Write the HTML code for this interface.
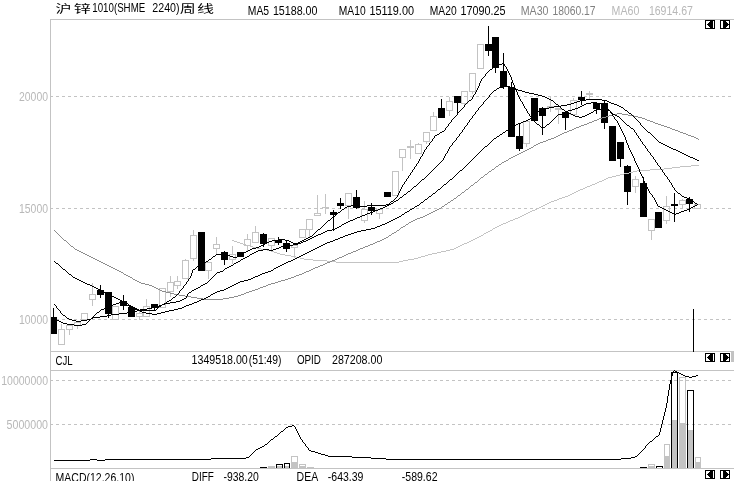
<!DOCTYPE html>
<html lang="zh">
<head>
<meta charset="utf-8">
<title>沪锌1010(SHME 2240)周线</title>
<style>
html,body{margin:0;padding:0;background:#fff;}
body{width:734px;height:481px;overflow:hidden;position:relative;font-family:"Liberation Sans","Noto Sans CJK SC",sans-serif;}
svg text{white-space:pre;}
</style>
</head>
<body>
<svg width="734" height="481" viewBox="0 0 734 481" style="display:block;position:absolute;left:0;top:0">
<rect x="0" y="0" width="734" height="481" fill="#fff"/>
<g stroke="#c3c3c3" stroke-width="1" fill="none" shape-rendering="crispEdges">
<line x1="50.5" y1="19" x2="50.5" y2="481"/>
<line x1="50" y1="19.5" x2="734" y2="19.5"/>
<line x1="50" y1="351.5" x2="734" y2="351.5"/>
<line x1="50" y1="370.5" x2="734" y2="370.5"/>
<line x1="50" y1="468.5" x2="734" y2="468.5"/>
</g>
<g stroke="#c3c3c3" stroke-width="1" fill="none" stroke-dasharray="3 3" shape-rendering="crispEdges">
<line x1="50" y1="96.5" x2="734" y2="96.5"/>
<line x1="50" y1="208.5" x2="734" y2="208.5"/>
<line x1="50" y1="319.5" x2="734" y2="319.5"/>
<line x1="50" y1="380.5" x2="734" y2="380.5"/>
<line x1="50" y1="424.5" x2="734" y2="424.5"/>
</g>
<g shape-rendering="crispEdges">
<rect x="61" y="324" width="1" height="5" fill="#c3c3c3"/>
<rect x="58.5" y="329.5" width="6" height="15" fill="none" stroke="#c3c3c3" stroke-width="1"/>
<rect x="69" y="330" width="1" height="5" fill="#c3c3c3"/>
<rect x="66.5" y="325.5" width="6" height="4" fill="none" stroke="#c3c3c3" stroke-width="1"/>
<rect x="77" y="326" width="1" height="3" fill="#c3c3c3"/>
<rect x="74.5" y="322.5" width="6" height="3" fill="none" stroke="#c3c3c3" stroke-width="1"/>
<rect x="81.5" y="313.5" width="6" height="6" fill="none" stroke="#c3c3c3" stroke-width="1"/>
<rect x="92" y="283" width="1" height="11" fill="#c3c3c3"/>
<rect x="92" y="300" width="1" height="6" fill="#c3c3c3"/>
<rect x="89.5" y="294.5" width="6" height="5" fill="none" stroke="#c3c3c3" stroke-width="1"/>
<rect x="112.5" y="306.5" width="6" height="13" fill="none" stroke="#c3c3c3" stroke-width="1"/>
<rect x="139" y="311" width="1" height="2" fill="#c3c3c3"/>
<rect x="139" y="317" width="1" height="3" fill="#c3c3c3"/>
<rect x="136.5" y="313.5" width="6" height="3" fill="none" stroke="#c3c3c3" stroke-width="1"/>
<rect x="146" y="299" width="1" height="7" fill="#c3c3c3"/>
<rect x="143.5" y="306.5" width="6" height="10" fill="none" stroke="#c3c3c3" stroke-width="1"/>
<rect x="159.5" y="288.5" width="6" height="19" fill="none" stroke="#c3c3c3" stroke-width="1"/>
<rect x="170" y="276" width="1" height="6" fill="#c3c3c3"/>
<rect x="170" y="292" width="1" height="5" fill="#c3c3c3"/>
<rect x="167.5" y="282.5" width="6" height="9" fill="none" stroke="#c3c3c3" stroke-width="1"/>
<rect x="177" y="276" width="1" height="5" fill="#c3c3c3"/>
<rect x="177" y="286" width="1" height="3" fill="#c3c3c3"/>
<rect x="174.5" y="281.5" width="6" height="4" fill="none" stroke="#c3c3c3" stroke-width="1"/>
<rect x="185" y="259" width="1" height="1" fill="#c3c3c3"/>
<rect x="182.5" y="260.5" width="6" height="18" fill="none" stroke="#c3c3c3" stroke-width="1"/>
<rect x="193" y="230" width="1" height="5" fill="#c3c3c3"/>
<rect x="193" y="259" width="1" height="2" fill="#c3c3c3"/>
<rect x="190.5" y="235.5" width="6" height="23" fill="none" stroke="#c3c3c3" stroke-width="1"/>
<rect x="208" y="271" width="1" height="8" fill="#c3c3c3"/>
<rect x="205.5" y="262.5" width="6" height="8" fill="none" stroke="#c3c3c3" stroke-width="1"/>
<rect x="216" y="237" width="1" height="7" fill="#c3c3c3"/>
<rect x="216" y="249" width="1" height="6" fill="#c3c3c3"/>
<rect x="213.5" y="244.5" width="6" height="4" fill="none" stroke="#c3c3c3" stroke-width="1"/>
<rect x="232" y="246" width="1" height="8" fill="#c3c3c3"/>
<rect x="232" y="260" width="1" height="4" fill="#c3c3c3"/>
<rect x="229.5" y="254.5" width="6" height="5" fill="none" stroke="#c3c3c3" stroke-width="1"/>
<rect x="247" y="234" width="1" height="5" fill="#c3c3c3"/>
<rect x="247" y="246" width="1" height="5" fill="#c3c3c3"/>
<rect x="244.5" y="239.5" width="6" height="6" fill="none" stroke="#c3c3c3" stroke-width="1"/>
<rect x="255" y="226" width="1" height="6" fill="#c3c3c3"/>
<rect x="252.5" y="232.5" width="6" height="10" fill="none" stroke="#c3c3c3" stroke-width="1"/>
<rect x="271" y="246" width="1" height="4" fill="#c3c3c3"/>
<rect x="268.5" y="238.5" width="6" height="7" fill="none" stroke="#c3c3c3" stroke-width="1"/>
<rect x="294" y="248" width="1" height="10" fill="#c3c3c3"/>
<rect x="291.5" y="245.5" width="6" height="2" fill="none" stroke="#c3c3c3" stroke-width="1"/>
<rect x="299.5" y="229.5" width="6" height="8" fill="none" stroke="#c3c3c3" stroke-width="1"/>
<rect x="309" y="230" width="1" height="7" fill="#c3c3c3"/>
<rect x="306.5" y="219.5" width="6" height="10" fill="none" stroke="#c3c3c3" stroke-width="1"/>
<rect x="317" y="195" width="1" height="18" fill="#c3c3c3"/>
<rect x="314.5" y="213.5" width="6" height="2" fill="none" stroke="#c3c3c3" stroke-width="1"/>
<rect x="325" y="194" width="1" height="13" fill="#c3c3c3"/>
<rect x="325" y="208" width="1" height="6" fill="#c3c3c3"/>
<rect x="322" y="207" width="7" height="1" fill="#c3c3c3"/>
<rect x="348" y="206" width="1" height="13" fill="#c3c3c3"/>
<rect x="345.5" y="193.5" width="6" height="12" fill="none" stroke="#c3c3c3" stroke-width="1"/>
<rect x="364" y="201" width="1" height="8" fill="#c3c3c3"/>
<rect x="364" y="221" width="1" height="2" fill="#c3c3c3"/>
<rect x="361.5" y="209.5" width="6" height="11" fill="none" stroke="#c3c3c3" stroke-width="1"/>
<rect x="379" y="214" width="1" height="5" fill="#c3c3c3"/>
<rect x="376.5" y="209.5" width="6" height="4" fill="none" stroke="#c3c3c3" stroke-width="1"/>
<rect x="392.5" y="171.5" width="6" height="24" fill="none" stroke="#c3c3c3" stroke-width="1"/>
<rect x="402" y="158" width="1" height="13" fill="#c3c3c3"/>
<rect x="399.5" y="149.5" width="6" height="8" fill="none" stroke="#c3c3c3" stroke-width="1"/>
<rect x="410" y="140" width="1" height="6" fill="#c3c3c3"/>
<rect x="410" y="148" width="1" height="11" fill="#c3c3c3"/>
<rect x="407.5" y="146.5" width="6" height="1" fill="none" stroke="#c3c3c3" stroke-width="1"/>
<rect x="418" y="143" width="1" height="1" fill="#c3c3c3"/>
<rect x="415.5" y="144.5" width="6" height="9" fill="none" stroke="#c3c3c3" stroke-width="1"/>
<rect x="426" y="142" width="1" height="2" fill="#c3c3c3"/>
<rect x="423.5" y="132.5" width="6" height="9" fill="none" stroke="#c3c3c3" stroke-width="1"/>
<rect x="433" y="112" width="1" height="4" fill="#c3c3c3"/>
<rect x="430.5" y="116.5" width="6" height="14" fill="none" stroke="#c3c3c3" stroke-width="1"/>
<rect x="449" y="97" width="1" height="4" fill="#c3c3c3"/>
<rect x="449" y="111" width="1" height="5" fill="#c3c3c3"/>
<rect x="446.5" y="101.5" width="6" height="9" fill="none" stroke="#c3c3c3" stroke-width="1"/>
<rect x="464" y="104" width="1" height="1" fill="#c3c3c3"/>
<rect x="461.5" y="91.5" width="6" height="12" fill="none" stroke="#c3c3c3" stroke-width="1"/>
<rect x="472" y="92" width="1" height="2" fill="#c3c3c3"/>
<rect x="469.5" y="73.5" width="6" height="18" fill="none" stroke="#c3c3c3" stroke-width="1"/>
<rect x="477.5" y="44.5" width="6" height="24" fill="none" stroke="#c3c3c3" stroke-width="1"/>
<rect x="526" y="144" width="1" height="3" fill="#c3c3c3"/>
<rect x="523.5" y="121.5" width="6" height="22" fill="none" stroke="#c3c3c3" stroke-width="1"/>
<rect x="550" y="97" width="1" height="9" fill="#c3c3c3"/>
<rect x="550" y="108" width="1" height="4" fill="#c3c3c3"/>
<rect x="547.5" y="106.5" width="6" height="1" fill="none" stroke="#c3c3c3" stroke-width="1"/>
<rect x="558" y="110" width="1" height="14" fill="#c3c3c3"/>
<rect x="555.5" y="108.5" width="6" height="1" fill="none" stroke="#c3c3c3" stroke-width="1"/>
<rect x="573" y="98" width="1" height="2" fill="#c3c3c3"/>
<rect x="570.5" y="100.5" width="6" height="14" fill="none" stroke="#c3c3c3" stroke-width="1"/>
<rect x="589" y="91" width="1" height="2" fill="#c3c3c3"/>
<rect x="589" y="95" width="1" height="5" fill="#c3c3c3"/>
<rect x="586.5" y="93.5" width="6" height="1" fill="none" stroke="#c3c3c3" stroke-width="1"/>
<rect x="635" y="176" width="1" height="3" fill="#c3c3c3"/>
<rect x="635" y="187" width="1" height="6" fill="#c3c3c3"/>
<rect x="632.5" y="179.5" width="6" height="7" fill="none" stroke="#c3c3c3" stroke-width="1"/>
<rect x="651" y="231" width="1" height="9" fill="#c3c3c3"/>
<rect x="648.5" y="219.5" width="6" height="11" fill="none" stroke="#c3c3c3" stroke-width="1"/>
<rect x="666" y="196" width="1" height="10" fill="#c3c3c3"/>
<rect x="666" y="221" width="1" height="3" fill="#c3c3c3"/>
<rect x="663.5" y="206.5" width="6" height="14" fill="none" stroke="#c3c3c3" stroke-width="1"/>
<rect x="682" y="199" width="1" height="1" fill="#c3c3c3"/>
<rect x="682" y="205" width="1" height="4" fill="#c3c3c3"/>
<rect x="679.5" y="200.5" width="6" height="4" fill="none" stroke="#c3c3c3" stroke-width="1"/>
<rect x="694.5" y="204.5" width="6" height="4" fill="none" stroke="#c3c3c3" stroke-width="1"/>
</g>
<g shape-rendering="crispEdges">
<rect x="53" y="308" width="1" height="26" fill="#000"/>
<rect x="50" y="317" width="7" height="17" fill="#000"/>
<rect x="100" y="285" width="1" height="13" fill="#000"/>
<rect x="97" y="290" width="7" height="5" fill="#000"/>
<rect x="108" y="292" width="1" height="26" fill="#000"/>
<rect x="105" y="292" width="7" height="22" fill="#000"/>
<rect x="123" y="295" width="1" height="15" fill="#000"/>
<rect x="120" y="301" width="7" height="5" fill="#000"/>
<rect x="131" y="306" width="1" height="11" fill="#000"/>
<rect x="128" y="307" width="7" height="10" fill="#000"/>
<rect x="154" y="304" width="1" height="6" fill="#000"/>
<rect x="151" y="304" width="7" height="4" fill="#000"/>
<rect x="198" y="232" width="7" height="39" fill="#000"/>
<rect x="224" y="251" width="1" height="14" fill="#000"/>
<rect x="221" y="252" width="7" height="8" fill="#000"/>
<rect x="237" y="252" width="7" height="5" fill="#000"/>
<rect x="263" y="233" width="1" height="14" fill="#000"/>
<rect x="260" y="234" width="7" height="10" fill="#000"/>
<rect x="278" y="237" width="1" height="8" fill="#000"/>
<rect x="275" y="240" width="7" height="3" fill="#000"/>
<rect x="286" y="240" width="1" height="12" fill="#000"/>
<rect x="283" y="243" width="7" height="6" fill="#000"/>
<rect x="333" y="210" width="1" height="21" fill="#000"/>
<rect x="330" y="212" width="7" height="3" fill="#000"/>
<rect x="340" y="198" width="1" height="11" fill="#000"/>
<rect x="337" y="203" width="7" height="3" fill="#000"/>
<rect x="356" y="190" width="1" height="19" fill="#000"/>
<rect x="353" y="197" width="7" height="11" fill="#000"/>
<rect x="371" y="203" width="1" height="12" fill="#000"/>
<rect x="368" y="207" width="7" height="4" fill="#000"/>
<rect x="384" y="192" width="7" height="5" fill="#000"/>
<rect x="441" y="99" width="1" height="19" fill="#000"/>
<rect x="438" y="108" width="7" height="10" fill="#000"/>
<rect x="457" y="96" width="1" height="17" fill="#000"/>
<rect x="454" y="96" width="7" height="7" fill="#000"/>
<rect x="488" y="26" width="1" height="30" fill="#000"/>
<rect x="485" y="44" width="7" height="7" fill="#000"/>
<rect x="495" y="37" width="1" height="36" fill="#000"/>
<rect x="492" y="37" width="7" height="31" fill="#000"/>
<rect x="503" y="53" width="1" height="36" fill="#000"/>
<rect x="500" y="71" width="7" height="16" fill="#000"/>
<rect x="511" y="82" width="1" height="55" fill="#000"/>
<rect x="508" y="87" width="7" height="50" fill="#000"/>
<rect x="519" y="124" width="1" height="27" fill="#000"/>
<rect x="516" y="136" width="7" height="13" fill="#000"/>
<rect x="531" y="98" width="7" height="23" fill="#000"/>
<rect x="542" y="107" width="1" height="28" fill="#000"/>
<rect x="539" y="108" width="7" height="8" fill="#000"/>
<rect x="565" y="112" width="1" height="18" fill="#000"/>
<rect x="562" y="112" width="7" height="6" fill="#000"/>
<rect x="581" y="91" width="1" height="14" fill="#000"/>
<rect x="578" y="97" width="7" height="3" fill="#000"/>
<rect x="596" y="103" width="1" height="11" fill="#000"/>
<rect x="593" y="103" width="7" height="6" fill="#000"/>
<rect x="604" y="100" width="1" height="29" fill="#000"/>
<rect x="601" y="103" width="7" height="20" fill="#000"/>
<rect x="609" y="126" width="7" height="35" fill="#000"/>
<rect x="620" y="142" width="1" height="25" fill="#000"/>
<rect x="617" y="142" width="7" height="17" fill="#000"/>
<rect x="627" y="165" width="1" height="40" fill="#000"/>
<rect x="624" y="166" width="7" height="26" fill="#000"/>
<rect x="643" y="177" width="1" height="40" fill="#000"/>
<rect x="640" y="183" width="7" height="34" fill="#000"/>
<rect x="655" y="212" width="7" height="16" fill="#000"/>
<rect x="674" y="193" width="1" height="29" fill="#000"/>
<rect x="671" y="204" width="7" height="2" fill="#000"/>
<rect x="689" y="197" width="1" height="15" fill="#000"/>
<rect x="686" y="199" width="7" height="5" fill="#000"/>
</g>
<path d="M304 259h9v1h-9zM408 259h6v1h-6zM629 172h4v1h-4zM650 169h14v1h-14zM501 224h2v1h-2zM545 204h2v1h-2zM691 165h8v1h-8zM580 189h3v1h-3zM240 243h3v1h-3zM464 243h3v1h-3zM285 255h6v1h-6zM425 255h3v1h-3zM559 198h3v1h-3zM590 185h2v1h-2zM672 167h8v1h-8zM313 260h14v1h-14zM403 260h5v1h-5zM637 170h13v1h-13zM267 250h4v1h-4zM446 250h4v1h-4zM250 246h3v1h-3zM458 246h2v1h-2zM616 175h4v1h-4zM554 200h3v1h-3zM479 236h2v1h-2zM336 262h63v1h-63zM664 168h8v1h-8zM526 213h2v1h-2zM475 238h2v1h-2zM624 173h5v1h-5zM606 178h2v1h-2zM261 249h6v1h-6zM450 249h4v1h-4zM532 210h3v1h-3zM246 245h4v1h-4zM460 245h2v1h-2zM327 261h9v1h-9zM399 261h4v1h-4zM497 226h2v1h-2zM541 206h2v1h-2zM576 191h2v1h-2zM253 247h4v1h-4zM456 247h2v1h-2zM274 252h3v1h-3zM437 252h4v1h-4zM493 228h2v1h-2zM296 257h4v1h-4zM418 257h3v1h-3zM537 208h2v1h-2zM612 176h4v1h-4zM277 253h3v1h-3zM432 253h5v1h-5zM513 219h2v1h-2zM551 201h3v1h-3zM232 240h2v1h-2zM471 240h2v1h-2zM291 256h5v1h-5zM421 256h4v1h-4zM597 182h2v1h-2zM602 180h2v1h-2zM271 251h3v1h-3zM441 251h5v1h-5zM528 212h2v1h-2zM680 166h11v1h-11zM562 197h3v1h-3zM592 184h3v1h-3zM490 230h2v1h-2zM547 203h2v1h-2zM578 190h2v1h-2zM508 221h2v1h-2zM300 258h4v1h-4zM414 258h4v1h-4zM237 242h3v1h-3zM467 242h2v1h-2zM587 186h3v1h-3zM280 254h5v1h-5zM428 254h4v1h-4zM524 214h2v1h-2zM473 239h2v1h-2zM620 174h4v1h-4zM234 241h3v1h-3zM469 241h2v1h-2zM481 235h2v1h-2zM520 216h2v1h-2zM486 232h2v1h-2zM477 237h2v1h-2zM543 205h2v1h-2zM574 192h2v1h-2zM608 177h4v1h-4zM539 207h2v1h-2zM570 194h2v1h-2zM503 223h3v1h-3zM257 248h4v1h-4zM454 248h2v1h-2zM633 171h4v1h-4zM243 244h3v1h-3zM462 244h2v1h-2zM599 181h3v1h-3zM515 218h3v1h-3zM595 183h2v1h-2zM604 179h2v1h-2zM492 229h1v1h-1zM535 209h2v1h-2zM565 196h3v1h-3zM506 222h2v1h-2zM549 202h2v1h-2zM585 187h2v1h-2zM510 220h3v1h-3zM488 231h2v1h-2zM530 211h2v1h-2zM522 215h2v1h-2zM518 217h2v1h-2zM557 199h2v1h-2zM484 233h2v1h-2zM572 193h2v1h-2zM568 195h2v1h-2zM583 188h2v1h-2zM499 225h2v1h-2zM495 227h2v1h-2zM483 234h1v1h-1z" fill="#c3c3c3" shape-rendering="crispEdges"/>
<path d="M617 113h5v1h-5zM576 127h3v1h-3zM667 127h3v1h-3zM599 118h3v1h-3zM642 118h3v1h-3zM538 143h2v1h-2zM569 130h3v1h-3zM675 130h3v1h-3zM124 274h2v1h-2zM299 274h3v1h-3zM71 246h2v1h-2zM365 246h3v1h-3zM613 114h4v1h-4zM622 114h6v1h-6zM606 116h3v1h-3zM634 116h4v1h-4zM203 299h20v1h-20zM158 289h2v1h-2zM255 289h3v1h-3zM128 276h2v1h-2zM294 276h2v1h-2zM584 124h3v1h-3zM658 124h3v1h-3zM121 272h2v1h-2zM304 272h2v1h-2zM197 298h6v1h-6zM223 298h6v1h-6zM433 211h2v1h-2zM174 294h5v1h-5zM241 294h3v1h-3zM57 233h1v1h-1zM392 233h2v1h-2zM95 259h2v1h-2zM335 259h2v1h-2zM564 132h3v1h-3zM680 132h3v1h-3zM477 181h1v1h-1zM511 157h2v1h-2zM554 137h2v1h-2zM694 137h2v1h-2zM58 234h1v1h-1zM391 234h1v1h-1zM149 285h3v1h-3zM266 285h2v1h-2zM113 268h2v1h-2zM313 268h2v1h-2zM429 213h2v1h-2zM67 242h1v1h-1zM375 242h2v1h-2zM458 195h2v1h-2zM179 295h6v1h-6zM238 295h3v1h-3zM162 291h4v1h-4zM249 291h3v1h-3zM462 192h2v1h-2zM560 134h2v1h-2zM686 134h2v1h-2zM135 280h2v1h-2zM281 280h4v1h-4zM105 264h2v1h-2zM323 264h2v1h-2zM154 287h2v1h-2zM260 287h3v1h-3zM111 267h2v1h-2zM315 267h3v1h-3zM117 270h2v1h-2zM309 270h2v1h-2zM109 266h2v1h-2zM318 266h2v1h-2zM556 136h2v1h-2zM691 136h3v1h-3zM602 117h4v1h-4zM638 117h4v1h-4zM534 145h2v1h-2zM56 232h1v1h-1zM394 232h2v1h-2zM99 261h2v1h-2zM330 261h2v1h-2zM415 219h2v1h-2zM74 248h1v1h-1zM360 248h3v1h-3zM406 224h2v1h-2zM191 297h6v1h-6zM229 297h5v1h-5zM101 262h2v1h-2zM327 262h3v1h-3zM484 175h1v1h-1zM93 258h2v1h-2zM337 258h2v1h-2zM141 283h4v1h-4zM271 283h4v1h-4zM103 263h2v1h-2zM325 263h2v1h-2zM185 296h6v1h-6zM234 296h4v1h-4zM77 250h2v1h-2zM356 250h2v1h-2zM166 292h4v1h-4zM246 292h3v1h-3zM488 172h1v1h-1zM87 255h2v1h-2zM344 255h2v1h-2zM508 159h1v1h-1zM425 215h2v1h-2zM499 164h2v1h-2zM69 244h1v1h-1zM370 244h3v1h-3zM492 169h2v1h-2zM558 135h2v1h-2zM688 135h3v1h-3zM97 260h2v1h-2zM332 260h3v1h-3zM89 256h2v1h-2zM342 256h2v1h-2zM137 281h2v1h-2zM278 281h3v1h-3zM81 252h2v1h-2zM351 252h2v1h-2zM504 161h2v1h-2zM589 122h3v1h-3zM653 122h2v1h-2zM91 257h2v1h-2zM339 257h3v1h-3zM83 253h2v1h-2zM348 253h3v1h-3zM592 121h2v1h-2zM650 121h3v1h-3zM75 249h2v1h-2zM358 249h2v1h-2zM548 139h3v1h-3zM698 139h1v1h-1zM115 269h2v1h-2zM311 269h2v1h-2zM61 237h1v1h-1zM386 237h2v1h-2zM527 149h2v1h-2zM399 229h1v1h-1zM531 147h2v1h-2zM64 240h2v1h-2zM380 240h2v1h-2zM63 239h1v1h-1zM382 239h2v1h-2zM411 221h2v1h-2zM594 120h3v1h-3zM647 120h3v1h-3zM403 226h2v1h-2zM170 293h4v1h-4zM244 293h2v1h-2zM448 202h2v1h-2zM79 251h2v1h-2zM353 251h3v1h-3zM523 151h2v1h-2zM107 265h2v1h-2zM320 265h3v1h-3zM546 140h2v1h-2zM130 277h2v1h-2zM291 277h3v1h-3zM145 284h4v1h-4zM268 284h3v1h-3zM581 125h3v1h-3zM661 125h3v1h-3zM420 217h3v1h-3zM496 166h2v1h-2zM123 273h1v1h-1zM302 273h2v1h-2zM540 142h3v1h-3zM609 115h4v1h-4zM628 115h6v1h-6zM160 290h2v1h-2zM252 290h3v1h-3zM513 156h2v1h-2zM551 138h3v1h-3zM696 138h2v1h-2zM126 275h2v1h-2zM296 275h3v1h-3zM460 194h1v1h-1zM587 123h2v1h-2zM655 123h3v1h-3zM475 182h2v1h-2zM506 160h2v1h-2zM464 191h1v1h-1zM441 207h1v1h-1zM66 241h1v1h-1zM377 241h3v1h-3zM152 286h2v1h-2zM263 286h3v1h-3zM572 129h2v1h-2zM672 129h3v1h-3zM468 188h1v1h-1zM453 199h1v1h-1zM445 204h2v1h-2zM533 146h1v1h-1zM70 245h1v1h-1zM368 245h2v1h-2zM567 131h2v1h-2zM678 131h2v1h-2zM133 279h2v1h-2zM285 279h3v1h-3zM417 218h3v1h-3zM73 247h1v1h-1zM363 247h2v1h-2zM60 236h1v1h-1zM388 236h1v1h-1zM509 158h2v1h-2zM498 165h1v1h-1zM543 141h3v1h-3zM139 282h2v1h-2zM275 282h3v1h-3zM574 128h2v1h-2zM670 128h2v1h-2zM479 179h1v1h-1zM502 162h2v1h-2zM437 209h2v1h-2zM483 176h1v1h-1zM471 185h2v1h-2zM156 288h2v1h-2zM258 288h2v1h-2zM487 173h1v1h-1zM529 148h2v1h-2zM59 235h1v1h-1zM389 235h2v1h-2zM413 220h2v1h-2zM405 225h1v1h-1zM525 150h2v1h-2zM54 230h1v1h-1zM397 230h2v1h-2zM409 222h2v1h-2zM132 278h1v1h-1zM288 278h3v1h-3zM579 126h2v1h-2zM664 126h3v1h-3zM119 271h2v1h-2zM306 271h3v1h-3zM442 206h2v1h-2zM466 189h2v1h-2zM454 198h2v1h-2zM401 227h2v1h-2zM447 203h1v1h-1zM521 152h2v1h-2zM435 210h2v1h-2zM562 133h2v1h-2zM683 133h3v1h-3zM55 231h1v1h-1zM396 231h1v1h-1zM481 177h2v1h-2zM439 208h2v1h-2zM470 186h1v1h-1zM451 200h2v1h-2zM597 119h2v1h-2zM645 119h2v1h-2zM85 254h2v1h-2zM346 254h2v1h-2zM517 154h2v1h-2zM474 183h1v1h-1zM431 212h2v1h-2zM478 180h1v1h-1zM536 144h2v1h-2zM485 174h2v1h-2zM427 214h2v1h-2zM68 243h1v1h-1zM373 243h2v1h-2zM62 238h1v1h-1zM384 238h2v1h-2zM423 216h2v1h-2zM519 153h2v1h-2zM457 196h1v1h-1zM461 193h1v1h-1zM408 223h1v1h-1zM489 171h2v1h-2zM501 163h1v1h-1zM515 155h2v1h-2zM465 190h1v1h-1zM469 187h1v1h-1zM491 170h1v1h-1zM495 167h1v1h-1zM480 178h1v1h-1zM444 205h1v1h-1zM456 197h1v1h-1zM494 168h1v1h-1zM400 228h1v1h-1zM450 201h1v1h-1zM473 184h1v1h-1z" fill="#8c8c8c" shape-rendering="crispEdges"/>
<path d="M640 123h1v2h-1zM75 278h2v1h-2zM251 278h2v1h-2zM79 280h2v1h-2zM244 280h4v1h-4zM586 99h16v1h-16zM450 179h2v1h-2zM516 124h2v1h-2zM59 265h1v1h-1zM280 265h2v1h-2zM338 238h2v1h-2zM131 306h2v1h-2zM184 306h2v1h-2zM366 229h5v1h-5zM303 254h2v1h-2zM140 311h2v1h-2zM165 311h4v1h-4zM104 292h2v1h-2zM215 292h2v1h-2zM72 276h1v1h-1zM255 276h3v1h-3zM512 126h2v1h-2zM642 126h1v1h-1zM87 284h3v1h-3zM234 284h2v1h-2zM393 219h2v1h-2zM490 142h1v1h-1zM659 142h2v1h-2zM120 300h2v1h-2zM199 300h2v1h-2zM299 256h2v1h-2zM415 206h2v1h-2zM343 236h2v1h-2zM538 111h2v1h-2zM627 111h1v1h-1zM67 272h1v1h-1zM265 272h3v1h-3zM407 211h2v1h-2zM535 114h1v1h-1zM631 114h1v1h-1zM427 198h1v1h-1zM124 302h2v1h-2zM194 302h3v1h-3zM354 232h3v1h-3zM528 119h2v1h-2zM636 119h1v1h-1zM474 157h1v1h-1zM690 157h3v1h-3zM152 314h5v1h-5zM90 285h2v1h-2zM232 285h2v1h-2zM323 244h2v1h-2zM431 195h1v1h-1zM348 234h3v1h-3zM135 308h2v1h-2zM178 308h4v1h-4zM56 263h2v1h-2zM284 263h2v1h-2zM435 192h1v1h-1zM561 105h6v1h-6zM617 105h2v1h-2zM319 246h2v1h-2zM500 134h2v1h-2zM651 134h1v1h-1zM523 121h3v1h-3zM638 121h1v1h-1zM458 172h1v1h-1zM493 139h1v1h-1zM656 139h1v1h-1zM361 230h5v1h-5zM61 267h1v1h-1zM276 267h2v1h-2zM142 312h4v1h-4zM161 312h4v1h-4zM505 131h1v1h-1zM647 131h1v1h-1zM333 240h2v1h-2zM71 275h1v1h-1zM258 275h2v1h-2zM462 169h1v1h-1zM497 136h2v1h-2zM653 136h1v1h-1zM549 107h5v1h-5zM621 107h2v1h-2zM580 100h6v1h-6zM602 100h5v1h-5zM509 128h2v1h-2zM644 128h1v1h-1zM92 286h2v1h-2zM230 286h2v1h-2zM571 103h3v1h-3zM611 103h3v1h-3zM295 258h2v1h-2zM100 290h2v1h-2zM220 290h4v1h-4zM449 180h1v1h-1zM438 189h2v1h-2zM395 218h2v1h-2zM481 150h1v1h-1zM676 150h2v1h-2zM577 101h3v1h-3zM607 101h2v1h-2zM345 235h3v1h-3zM442 186h1v1h-1zM554 106h7v1h-7zM619 106h2v1h-2zM536 113h1v1h-1zM629 113h2v1h-2zM66 271h1v1h-1zM268 271h3v1h-3zM518 123h3v1h-3zM545 108h4v1h-4zM623 108h1v1h-1zM81 281h2v1h-2zM240 281h4v1h-4zM567 104h4v1h-4zM614 104h3v1h-3zM476 155h1v1h-1zM686 155h2v1h-2zM114 297h2v1h-2zM206 297h2v1h-2zM315 248h2v1h-2zM380 225h2v1h-2zM63 269h2v1h-2zM273 269h1v1h-1zM108 294h2v1h-2zM211 294h2v1h-2zM351 233h3v1h-3zM469 162h1v1h-1zM118 299h2v1h-2zM201 299h3v1h-3zM514 125h2v1h-2zM641 125h1v1h-1zM375 227h2v1h-2zM478 153h1v1h-1zM682 153h2v1h-2zM96 288h2v1h-2zM226 288h2v1h-2zM482 149h1v1h-1zM673 149h3v1h-3zM357 231h4v1h-4zM291 260h2v1h-2zM129 305h2v1h-2zM186 305h3v1h-3zM453 177h1v1h-1zM488 144h1v1h-1zM663 144h2v1h-2zM485 146h2v1h-2zM667 146h2v1h-2zM511 127h1v1h-1zM643 127h1v1h-1zM391 220h2v1h-2zM73 277h2v1h-2zM253 277h2v1h-2zM503 132h2v1h-2zM648 132h2v1h-2zM446 183h1v1h-1zM126 303h2v1h-2zM192 303h2v1h-2zM297 257h2v1h-2zM480 151h1v1h-1zM678 151h2v1h-2zM340 237h3v1h-3zM484 147h1v1h-1zM669 147h2v1h-2zM473 158h1v1h-1zM693 158h2v1h-2zM68 273h1v1h-1zM262 273h3v1h-3zM499 135h1v1h-1zM652 135h1v1h-1zM483 148h1v1h-1zM671 148h2v1h-2zM85 283h2v1h-2zM236 283h2v1h-2zM133 307h2v1h-2zM182 307h2v1h-2zM530 118h1v1h-1zM635 118h1v1h-1zM311 250h2v1h-2zM472 159h1v1h-1zM695 159h2v1h-2zM540 110h3v1h-3zM625 110h2v1h-2zM137 309h2v1h-2zM174 309h4v1h-4zM371 228h4v1h-4zM58 264h1v1h-1zM282 264h2v1h-2zM471 160h1v1h-1zM697 160h2v1h-2zM475 156h1v1h-1zM688 156h2v1h-2zM146 313h6v1h-6zM157 313h4v1h-4zM330 241h3v1h-3zM60 266h1v1h-1zM278 266h2v1h-2zM102 291h2v1h-2zM217 291h3v1h-3zM533 116h1v1h-1zM633 116h1v1h-1zM477 154h1v1h-1zM684 154h2v1h-2zM387 222h2v1h-2zM77 279h2v1h-2zM248 279h3v1h-3zM293 259h2v1h-2zM335 239h3v1h-3zM382 224h3v1h-3zM457 173h1v1h-1zM492 140h1v1h-1zM657 140h1v1h-1zM425 199h2v1h-2zM534 115h1v1h-1zM632 115h1v1h-1zM139 310h1v1h-1zM169 310h5v1h-5zM526 120h2v1h-2zM637 120h1v1h-1zM479 152h1v1h-1zM680 152h2v1h-2zM429 196h2v1h-2zM110 295h2v1h-2zM210 295h1v1h-1zM417 205h2v1h-2zM405 212h2v1h-2zM94 287h2v1h-2zM228 287h2v1h-2zM397 217h2v1h-2zM62 268h1v1h-1zM274 268h2v1h-2zM69 274h2v1h-2zM260 274h2v1h-2zM433 193h2v1h-2zM421 202h2v1h-2zM317 247h2v1h-2zM410 209h2v1h-2zM414 207h1v1h-1zM402 214h2v1h-2zM106 293h2v1h-2zM213 293h2v1h-2zM116 298h2v1h-2zM204 298h2v1h-2zM98 289h2v1h-2zM224 289h2v1h-2zM460 170h2v1h-2zM464 167h1v1h-1zM54 261h1v1h-1zM288 261h3v1h-3zM496 137h1v1h-1zM654 137h1v1h-1zM377 226h3v1h-3zM521 122h2v1h-2zM639 122h1v1h-1zM444 184h2v1h-2zM574 102h3v1h-3zM609 102h2v1h-2zM537 112h1v1h-1zM628 112h1v1h-1zM128 304h1v1h-1zM189 304h3v1h-3zM385 223h2v1h-2zM448 181h1v1h-1zM437 190h1v1h-1zM313 249h2v1h-2zM452 178h1v1h-1zM487 145h1v1h-1zM665 145h2v1h-2zM65 270h1v1h-1zM271 270h2v1h-2zM389 221h2v1h-2zM83 282h2v1h-2zM238 282h2v1h-2zM327 242h3v1h-3zM455 175h1v1h-1zM494 138h2v1h-2zM655 138h1v1h-1zM502 133h1v1h-1zM650 133h1v1h-1zM309 251h2v1h-2zM506 130h2v1h-2zM646 130h1v1h-1zM399 216h2v1h-2zM305 253h2v1h-2zM420 203h1v1h-1zM412 208h2v1h-2zM543 109h2v1h-2zM624 109h1v1h-1zM404 213h1v1h-1zM122 301h2v1h-2zM197 301h2v1h-2zM424 200h1v1h-1zM428 197h1v1h-1zM466 165h1v1h-1zM459 171h1v1h-1zM301 255h2v1h-2zM531 117h2v1h-2zM634 117h1v1h-1zM489 143h1v1h-1zM661 143h2v1h-2zM307 252h2v1h-2zM325 243h2v1h-2zM112 296h2v1h-2zM208 296h2v1h-2zM463 168h1v1h-1zM454 176h1v1h-1zM321 245h2v1h-2zM470 161h1v1h-1zM419 204h1v1h-1zM508 129h1v1h-1zM645 129h1v1h-1zM441 187h1v1h-1zM468 163h1v1h-1zM465 166h1v1h-1zM55 262h1v1h-1zM286 262h2v1h-2zM456 174h1v1h-1zM491 141h1v1h-1zM658 141h1v1h-1zM432 194h1v1h-1zM436 191h1v1h-1zM409 210h1v1h-1zM440 188h1v1h-1zM443 185h1v1h-1zM401 215h1v1h-1zM447 182h1v1h-1zM423 201h1v1h-1zM467 164h1v1h-1z" fill="#000" shape-rendering="crispEdges"/>
<path d="M467 123h1v2h-1zM60 311h1v2h-1zM444 156h1v2h-1zM645 146h1v2h-1zM483 102h1v2h-1zM664 173h1v2h-1zM660 167h1v2h-1zM475 112h1v2h-1zM478 108h1v2h-1zM449 147h1v2h-1zM647 149h1v2h-1zM462 130h1v2h-1zM445 154h1v2h-1zM187 294h1v2h-1zM662 170h1v2h-1zM469 120h1v2h-1zM669 180h1v2h-1zM636 133h1v2h-1zM650 153h1v2h-1zM448 149h1v2h-1zM472 116h1v2h-1zM672 185h1v2h-1zM186 296h1v2h-1zM456 138h1v2h-1zM653 157h1v2h-1zM667 177h1v2h-1zM56 306h1v2h-1zM634 130h1v2h-1zM447 151h1v2h-1zM459 134h1v2h-1zM657 163h1v2h-1zM443 158h1v2h-1zM671 183h1v2h-1zM674 188h1v2h-1zM638 136h1v2h-1zM642 142h1v2h-1zM640 139h1v2h-1zM655 160h1v2h-1zM489 95h1v2h-1zM464 127h1v2h-1zM452 143h1v2h-1zM308 239h2v1h-2zM203 284h2v1h-2zM479 107h1v1h-1zM560 107h1v1h-1zM578 107h2v1h-2zM606 107h1v1h-1zM180 300h2v1h-2zM227 267h2v1h-2zM394 201h2v1h-2zM692 201h2v1h-2zM631 128h2v1h-2zM555 103h1v1h-1zM586 103h5v1h-5zM597 103h4v1h-4zM208 281h1v1h-1zM389 204h2v1h-2zM697 204h1v1h-1zM59 310h1v1h-1zM137 310h3v1h-3zM144 310h12v1h-12zM488 97h1v1h-1zM545 97h2v1h-2zM65 316h1v1h-1zM100 316h7v1h-7zM303 241h3v1h-3zM562 109h2v1h-2zM572 109h3v1h-3zM608 109h1v1h-1zM58 309h1v1h-1zM140 309h4v1h-4zM156 309h1v1h-1zM240 260h1v1h-1zM158 307h1v1h-1zM380 208h3v1h-3zM231 265h2v1h-2zM66 317h1v1h-1zM93 317h7v1h-7zM63 315h2v1h-2zM107 315h4v1h-4zM398 199h1v1h-1zM689 199h2v1h-2zM492 92h1v1h-1zM525 92h4v1h-4zM258 250h5v1h-5zM269 250h4v1h-4zM318 234h3v1h-3zM504 86h6v1h-6zM482 104h1v1h-1zM556 104h2v1h-2zM584 104h2v1h-2zM601 104h3v1h-3zM476 111h1v1h-1zM565 111h3v1h-3zM610 111h1v1h-1zM69 319h3v1h-3zM87 319h4v1h-4zM491 93h1v1h-1zM529 93h5v1h-5zM127 312h6v1h-6zM481 105h1v1h-1zM558 105h1v1h-1zM582 105h2v1h-2zM604 105h1v1h-1zM466 125h1v1h-1zM627 125h2v1h-2zM400 197h2v1h-2zM684 197h3v1h-3zM72 320h4v1h-4zM81 320h6v1h-6zM480 106h1v1h-1zM559 106h1v1h-1zM580 106h2v1h-2zM605 106h1v1h-1zM370 212h3v1h-3zM200 286h1v1h-1zM62 314h1v1h-1zM111 314h8v1h-8zM473 115h1v1h-1zM615 115h2v1h-2zM436 166h1v1h-1zM659 166h1v1h-1zM460 133h1v1h-1zM263 249h6v1h-6zM273 249h3v1h-3zM215 274h1v1h-1zM427 175h1v1h-1zM665 175h1v1h-1zM494 90h2v1h-2zM518 90h4v1h-4zM406 193h1v1h-1zM678 193h2v1h-2zM196 288h2v1h-2zM611 112h1v1h-1zM281 246h5v1h-5zM54 304h1v1h-1zM162 304h3v1h-3zM420 181h1v1h-1zM375 210h3v1h-3zM612 113h1v1h-1zM451 145h1v1h-1zM644 145h1v1h-1zM176 301h4v1h-4zM306 240h2v1h-2zM350 220h3v1h-3zM626 124h1v1h-1zM286 245h7v1h-7zM424 178h1v1h-1zM61 313h1v1h-1zM119 313h8v1h-8zM254 252h2v1h-2zM245 257h2v1h-2zM648 151h1v1h-1zM360 216h2v1h-2zM439 163h1v1h-1zM407 192h1v1h-1zM677 192h1v1h-1zM250 254h2v1h-2zM325 231h2v1h-2zM463 129h1v1h-1zM633 129h1v1h-1zM477 110h1v1h-1zM564 110h1v1h-1zM568 110h4v1h-4zM609 110h1v1h-1zM430 172h1v1h-1zM663 172h1v1h-1zM365 214h2v1h-2zM188 293h1v1h-1zM293 244h5v1h-5zM192 290h2v1h-2zM276 248h3v1h-3zM212 277h1v1h-1zM170 302h6v1h-6zM346 222h2v1h-2zM431 171h1v1h-1zM337 227h2v1h-2zM497 88h2v1h-2zM513 88h2v1h-2zM210 279h1v1h-1zM241 259h2v1h-2zM411 189h1v1h-1zM490 94h1v1h-1zM534 94h4v1h-4zM220 271h3v1h-3zM391 203h2v1h-2zM695 203h2v1h-2zM561 108h1v1h-1zM575 108h3v1h-3zM607 108h1v1h-1zM414 186h2v1h-2zM496 89h1v1h-1zM515 89h3v1h-3zM321 233h2v1h-2zM396 200h2v1h-2zM691 200h1v1h-1zM454 141h1v1h-1zM641 141h1v1h-1zM387 205h2v1h-2zM554 102h1v1h-1zM591 102h6v1h-6zM357 217h3v1h-3zM76 321h5v1h-5zM434 168h1v1h-1zM499 87h5v1h-5zM510 87h3v1h-3zM538 95h4v1h-4zM362 215h3v1h-3zM622 120h1v1h-1zM342 224h2v1h-2zM332 229h3v1h-3zM474 114h1v1h-1zM613 114h2v1h-2zM238 261h2v1h-2zM378 209h2v1h-2zM542 96h3v1h-3zM229 266h2v1h-2zM207 282h1v1h-1zM348 221h2v1h-2zM457 137h1v1h-1zM198 287h2v1h-2zM339 226h2v1h-2zM493 91h1v1h-1zM522 91h3v1h-3zM234 263h2v1h-2zM57 308h1v1h-1zM157 308h1v1h-1zM426 176h1v1h-1zM666 176h1v1h-1zM383 207h2v1h-2zM353 219h2v1h-2zM470 119h1v1h-1zM621 119h1v1h-1zM441 161h1v1h-1zM256 251h2v1h-2zM314 236h2v1h-2zM367 213h3v1h-3zM402 196h1v1h-1zM682 196h2v1h-2zM252 253h2v1h-2zM327 230h5v1h-5zM438 164h1v1h-1zM279 247h2v1h-2zM217 272h3v1h-3zM429 173h1v1h-1zM298 243h3v1h-3zM651 155h1v1h-1zM225 268h2v1h-2zM214 275h1v1h-1zM344 223h2v1h-2zM194 289h2v1h-2zM335 228h2v1h-2zM422 179h2v1h-2zM668 179h1v1h-1zM486 99h1v1h-1zM549 99h2v1h-2zM165 303h5v1h-5zM399 198h1v1h-1zM687 198h2v1h-2zM236 262h2v1h-2zM485 100h1v1h-1zM551 100h2v1h-2zM310 238h2v1h-2zM385 206h2v1h-2zM465 126h1v1h-1zM629 126h1v1h-1zM410 190h1v1h-1zM675 190h1v1h-1zM617 116h2v1h-2zM433 169h1v1h-1zM661 169h1v1h-1zM413 187h1v1h-1zM673 187h1v1h-1zM224 269h1v1h-1zM205 283h2v1h-2zM417 184h1v1h-1zM649 152h1v1h-1zM182 299h2v1h-2zM355 218h2v1h-2zM67 318h2v1h-2zM91 318h2v1h-2zM468 122h1v1h-1zM624 122h1v1h-1zM453 142h1v1h-1zM440 162h1v1h-1zM656 162h1v1h-1zM301 242h2v1h-2zM623 121h1v1h-1zM461 132h1v1h-1zM635 132h1v1h-1zM209 280h1v1h-1zM201 285h2v1h-2zM316 235h2v1h-2zM189 292h2v1h-2zM471 118h1v1h-1zM620 118h1v1h-1zM159 306h2v1h-2zM428 174h1v1h-1zM312 237h2v1h-2zM487 98h1v1h-1zM547 98h2v1h-2zM404 194h2v1h-2zM680 194h1v1h-1zM243 258h2v1h-2zM373 211h2v1h-2zM133 311h4v1h-4zM216 273h1v1h-1zM435 167h1v1h-1zM184 298h2v1h-2zM55 305h1v1h-1zM161 305h1v1h-1zM247 256h2v1h-2zM419 182h1v1h-1zM670 182h1v1h-1zM408 191h2v1h-2zM676 191h1v1h-1zM323 232h2v1h-2zM412 188h1v1h-1zM637 135h1v1h-1zM652 156h1v1h-1zM191 291h1v1h-1zM211 278h1v1h-1zM223 270h1v1h-1zM630 127h1v1h-1zM619 117h1v1h-1zM249 255h1v1h-1zM455 140h1v1h-1zM450 146h1v1h-1zM442 160h1v1h-1zM446 153h1v1h-1zM458 136h1v1h-1zM341 225h1v1h-1zM403 195h1v1h-1zM681 195h1v1h-1zM625 123h1v1h-1zM654 159h1v1h-1zM437 165h1v1h-1zM658 165h1v1h-1zM639 138h1v1h-1zM233 264h1v1h-1zM421 180h1v1h-1zM643 144h1v1h-1zM213 276h1v1h-1zM425 177h1v1h-1zM484 101h1v1h-1zM553 101h1v1h-1zM418 183h1v1h-1zM393 202h1v1h-1zM694 202h1v1h-1zM416 185h1v1h-1zM432 170h1v1h-1zM646 148h1v1h-1z" fill="#000" shape-rendering="crispEdges"/>
<path d="M638 167h1v2h-1zM619 125h1v2h-1zM406 179h1v2h-1zM612 114h1v2h-1zM401 187h1v2h-1zM634 158h1v3h-1zM652 195h1v2h-1zM404 182h1v2h-1zM644 181h1v2h-1zM629 148h1v2h-1zM190 276h1v2h-1zM506 67h1v2h-1zM645 183h1v2h-1zM476 90h1v2h-1zM507 69h1v2h-1zM400 189h1v2h-1zM514 85h1v3h-1zM472 97h1v2h-1zM647 187h1v2h-1zM637 165h1v2h-1zM655 200h1v2h-1zM622 131h1v2h-1zM510 75h1v2h-1zM424 150h1v2h-1zM416 164h1v2h-1zM626 140h1v3h-1zM420 157h1v2h-1zM513 83h1v2h-1zM654 198h1v2h-1zM618 123h1v2h-1zM192 270h1v3h-1zM475 92h1v2h-1zM524 106h1v2h-1zM509 73h1v2h-1zM520 99h1v2h-1zM188 279h1v2h-1zM639 169h1v3h-1zM636 163h1v2h-1zM657 204h1v2h-1zM423 152h1v2h-1zM527 111h1v2h-1zM399 191h1v2h-1zM432 139h1v2h-1zM412 170h1v2h-1zM614 117h1v2h-1zM643 178h1v3h-1zM646 185h1v2h-1zM523 104h1v2h-1zM628 145h1v3h-1zM419 159h1v2h-1zM179 291h1v2h-1zM635 161h1v2h-1zM191 273h1v3h-1zM512 80h1v3h-1zM625 137h1v3h-1zM632 154h1v2h-1zM519 97h1v2h-1zM481 79h1v2h-1zM451 120h1v2h-1zM398 193h1v2h-1zM656 202h1v2h-1zM617 121h1v2h-1zM526 109h1v2h-1zM642 176h1v2h-1zM457 113h1v2h-1zM402 185h1v2h-1zM627 143h1v2h-1zM183 286h1v2h-1zM511 77h1v3h-1zM529 114h1v2h-1zM426 147h1v2h-1zM522 102h1v2h-1zM518 95h1v2h-1zM641 174h1v2h-1zM422 154h1v2h-1zM445 128h1v2h-1zM186 282h1v2h-1zM624 135h1v2h-1zM429 143h1v2h-1zM418 161h1v2h-1zM480 81h1v2h-1zM631 152h1v2h-1zM532 118h1v2h-1zM448 124h1v2h-1zM397 195h1v2h-1zM464 105h1v2h-1zM633 156h1v2h-1zM623 133h1v2h-1zM517 92h1v3h-1zM630 150h1v2h-1zM640 172h1v2h-1zM479 83h1v3h-1zM408 176h1v2h-1zM478 86h1v2h-1zM516 90h1v2h-1zM610 111h1v2h-1zM649 191h1v2h-1zM621 129h1v2h-1zM473 95h1v2h-1zM515 88h1v2h-1zM434 136h1v2h-1zM414 167h1v2h-1zM477 88h1v2h-1zM485 74h1v2h-1zM648 189h1v2h-1zM620 127h1v2h-1zM508 71h1v2h-1zM410 173h1v2h-1zM504 64h1v2h-1zM216 254h7v1h-7zM226 254h2v1h-2zM241 254h1v1h-1zM312 235h1v1h-1zM539 125h1v1h-1zM546 125h1v1h-1zM461 109h1v1h-1zM596 109h11v1h-11zM496 65h2v1h-2zM455 116h1v1h-1zM530 116h1v1h-1zM556 116h1v1h-1zM575 116h4v1h-4zM582 116h3v1h-3zM613 116h1v1h-1zM67 324h7v1h-7zM82 324h4v1h-4zM104 308h3v1h-3zM133 308h2v1h-2zM147 308h5v1h-5zM468 101h1v1h-1zM521 101h1v1h-1zM278 239h7v1h-7zM304 239h2v1h-2zM465 104h1v1h-1zM173 297h2v1h-2zM263 244h2v1h-2zM452 119h1v1h-1zM553 119h1v1h-1zM615 119h1v1h-1zM119 302h3v1h-3zM166 302h1v1h-1zM456 115h1v1h-1zM557 115h1v1h-1zM573 115h2v1h-2zM585 115h2v1h-2zM336 214h1v1h-1zM674 214h2v1h-2zM74 325h8v1h-8zM435 135h2v1h-2zM213 256h2v1h-2zM230 256h3v1h-3zM237 256h2v1h-2zM446 127h1v1h-1zM541 127h1v1h-1zM543 127h2v1h-2zM533 120h1v1h-1zM552 120h1v1h-1zM616 120h1v1h-1zM502 63h2v1h-2zM272 240h6v1h-6zM285 240h4v1h-4zM302 240h2v1h-2zM342 209h2v1h-2zM664 209h2v1h-2zM687 209h2v1h-2zM328 220h2v1h-2zM440 132h2v1h-2zM344 208h1v1h-1zM662 208h2v1h-2zM689 208h2v1h-2zM351 205h6v1h-6zM367 205h19v1h-19zM695 205h2v1h-2zM537 124h2v1h-2zM547 124h2v1h-2zM212 257h1v1h-1zM233 257h4v1h-4zM332 217h2v1h-2zM63 323h4v1h-4zM86 323h1v1h-1zM193 269h2v1h-2zM433 138h1v1h-1zM449 123h1v1h-1zM536 123h1v1h-1zM549 123h1v1h-1zM534 121h1v1h-1zM551 121h1v1h-1zM338 212h2v1h-2zM670 212h2v1h-2zM679 212h2v1h-2zM347 206h4v1h-4zM357 206h10v1h-10zM658 206h2v1h-2zM693 206h2v1h-2zM209 259h2v1h-2zM265 243h2v1h-2zM293 243h5v1h-5zM197 266h2v1h-2zM200 264h2v1h-2zM215 255h1v1h-1zM228 255h2v1h-2zM239 255h2v1h-2zM101 309h3v1h-3zM135 309h4v1h-4zM144 309h3v1h-3zM252 248h4v1h-4zM111 305h2v1h-2zM127 305h2v1h-2zM159 305h3v1h-3zM337 213h1v1h-1zM672 213h2v1h-2zM676 213h3v1h-3zM308 237h2v1h-2zM558 114h10v1h-10zM571 114h2v1h-2zM587 114h2v1h-2zM341 210h1v1h-1zM666 210h2v1h-2zM684 210h3v1h-3zM396 197h1v1h-1zM653 197h1v1h-1zM269 241h3v1h-3zM289 241h2v1h-2zM300 241h2v1h-2zM259 246h2v1h-2zM651 194h1v1h-1zM113 304h3v1h-3zM124 304h3v1h-3zM162 304h2v1h-2zM454 117h1v1h-1zM531 117h1v1h-1zM555 117h1v1h-1zM579 117h3v1h-3zM447 126h1v1h-1zM540 126h1v1h-1zM545 126h1v1h-1zM389 203h1v1h-1zM107 307h2v1h-2zM131 307h2v1h-2zM152 307h5v1h-5zM116 303h3v1h-3zM122 303h2v1h-2zM164 303h2v1h-2zM413 169h1v1h-1zM393 200h1v1h-1zM109 306h2v1h-2zM129 306h2v1h-2zM157 306h2v1h-2zM460 110h1v1h-1zM594 110h2v1h-2zM607 110h3v1h-3zM494 66h2v1h-2zM505 66h1v1h-1zM450 122h1v1h-1zM535 122h1v1h-1zM550 122h1v1h-1zM93 316h1v1h-1zM484 76h1v1h-1zM172 298h1v1h-1zM487 72h1v1h-1zM498 64h4v1h-4zM458 112h1v1h-1zM591 112h2v1h-2zM323 225h1v1h-1zM316 231h1v1h-1zM407 178h1v1h-1zM96 313h1v1h-1zM250 249h2v1h-2zM181 289h1v1h-1zM100 310h1v1h-1zM139 310h5v1h-5zM314 233h1v1h-1zM267 242h2v1h-2zM291 242h2v1h-2zM298 242h2v1h-2zM261 245h2v1h-2zM490 69h2v1h-2zM330 219h1v1h-1zM345 207h2v1h-2zM660 207h2v1h-2zM691 207h2v1h-2zM334 216h1v1h-1zM199 265h1v1h-1zM61 322h2v1h-2zM87 322h1v1h-1zM542 128h1v1h-1zM246 251h2v1h-2zM528 113h1v1h-1zM568 113h3v1h-3zM589 113h2v1h-2zM611 113h1v1h-1zM427 146h1v1h-1zM184 285h1v1h-1zM256 247h3v1h-3zM57 320h2v1h-2zM89 320h1v1h-1zM310 236h2v1h-2zM386 204h3v1h-3zM697 204h1v1h-1zM467 102h1v1h-1zM176 295h1v1h-1zM391 201h2v1h-2zM340 211h1v1h-1zM668 211h2v1h-2zM681 211h3v1h-3zM403 184h1v1h-1zM395 198h1v1h-1zM223 253h3v1h-3zM242 253h2v1h-2zM462 108h1v1h-1zM525 108h1v1h-1zM59 321h2v1h-2zM88 321h1v1h-1zM442 131h2v1h-2zM187 281h1v1h-1zM430 142h1v1h-1zM248 250h2v1h-2zM95 314h1v1h-1zM415 166h1v1h-1zM439 133h1v1h-1zM486 73h1v1h-1zM325 223h1v1h-1zM318 229h2v1h-2zM244 252h2v1h-2zM206 261h2v1h-2zM489 70h1v1h-1zM469 100h2v1h-2zM178 293h1v1h-1zM493 67h1v1h-1zM171 299h1v1h-1zM90 319h1v1h-1zM390 202h1v1h-1zM320 228h1v1h-1zM409 175h1v1h-1zM202 263h2v1h-2zM313 234h1v1h-1zM167 301h2v1h-2zM437 134h2v1h-2zM97 312h2v1h-2zM327 221h1v1h-1zM189 278h1v1h-1zM331 218h1v1h-1zM208 260h1v1h-1zM324 224h1v1h-1zM306 238h2v1h-2zM471 99h1v1h-1zM405 181h1v1h-1zM169 300h2v1h-2zM488 71h1v1h-1zM459 111h1v1h-1zM593 111h1v1h-1zM177 294h1v1h-1zM335 215h1v1h-1zM483 77h1v1h-1zM204 262h2v1h-2zM196 267h1v1h-1zM185 284h1v1h-1zM315 232h1v1h-1zM428 145h1v1h-1zM99 311h1v1h-1zM92 317h1v1h-1zM444 130h1v1h-1zM453 118h1v1h-1zM554 118h1v1h-1zM322 226h1v1h-1zM474 94h1v1h-1zM431 141h1v1h-1zM180 290h1v1h-1zM463 107h1v1h-1zM466 103h1v1h-1zM175 296h1v1h-1zM411 172h1v1h-1zM326 222h1v1h-1zM650 193h1v1h-1zM211 258h1v1h-1zM394 199h1v1h-1zM94 315h1v1h-1zM482 78h1v1h-1zM195 268h1v1h-1zM317 230h1v1h-1zM182 288h1v1h-1zM492 68h1v1h-1zM91 318h1v1h-1zM421 156h1v1h-1zM321 227h1v1h-1zM425 149h1v1h-1zM417 163h1v1h-1z" fill="#000" shape-rendering="crispEdges"/>
<rect x="0" y="300" width="50" height="50" fill="#fff"/>
<rect x="50" y="19" width="1" height="462" fill="#c3c3c3" shape-rendering="crispEdges"/>
<line x1="693.5" y1="309" x2="693.5" y2="352" stroke="#000" stroke-width="1" shape-rendering="crispEdges"/>
<g shape-rendering="crispEdges">
<rect x="260" y="467" width="7" height="1" fill="#000"/>
<rect x="268" y="466" width="7" height="2" fill="#c3c3c3"/>
<rect x="268.5" y="466.5" width="6" height="2" fill="none" stroke="#c3c3c3" stroke-width="1"/>
<rect x="276" y="466" width="7" height="2" fill="#c3c3c3"/>
<rect x="276.5" y="464.5" width="6" height="4" fill="none" stroke="#000" stroke-width="1"/>
<rect x="284" y="466" width="6" height="2" fill="#c3c3c3"/>
<rect x="284.5" y="463.5" width="5" height="5" fill="none" stroke="#000" stroke-width="1"/>
<rect x="291" y="462" width="7" height="6" fill="#c3c3c3"/>
<rect x="291.5" y="456.5" width="6" height="12" fill="none" stroke="#c3c3c3" stroke-width="1"/>
<rect x="299" y="466" width="7" height="2" fill="#c3c3c3"/>
<rect x="299.5" y="464.5" width="6" height="4" fill="none" stroke="#c3c3c3" stroke-width="1"/>
<rect x="307" y="467" width="7" height="1" fill="#c3c3c3"/>
<rect x="640" y="467" width="7" height="1" fill="#000"/>
<rect x="648" y="466" width="7" height="2" fill="#c3c3c3"/>
<rect x="648.5" y="464.5" width="6" height="4" fill="none" stroke="#c3c3c3" stroke-width="1"/>
<rect x="656.5" y="466.5" width="6" height="2" fill="none" stroke="#000" stroke-width="1"/>
<rect x="664" y="456" width="6" height="12" fill="#c3c3c3"/>
<rect x="664.5" y="444.5" width="5" height="24" fill="none" stroke="#c3c3c3" stroke-width="1"/>
<rect x="671" y="420" width="7" height="48" fill="#c3c3c3"/>
<rect x="671.5" y="372.5" width="6" height="96" fill="none" stroke="#000" stroke-width="1"/>
<rect x="679" y="423" width="7" height="45" fill="#c3c3c3"/>
<rect x="679.5" y="377.5" width="6" height="91" fill="none" stroke="#c3c3c3" stroke-width="1"/>
<rect x="687" y="430" width="7" height="38" fill="#c3c3c3"/>
<rect x="687.5" y="390.5" width="6" height="78" fill="none" stroke="#000" stroke-width="1"/>
<rect x="695" y="462" width="6" height="6" fill="#c3c3c3"/>
<rect x="695.5" y="457.5" width="5" height="11" fill="none" stroke="#c3c3c3" stroke-width="1"/>
</g>
<rect x="50" y="468" width="684" height="1" fill="#c3c3c3" shape-rendering="crispEdges"/>
<path d="M673 371h1v2h-1zM672 373h1v3h-1zM660 428h1v4h-1zM669 384h1v6h-1zM302 440h1v2h-1zM664 412h1v4h-1zM298 433h1v2h-1zM668 390h1v6h-1zM299 435h1v2h-1zM295 427h1v2h-1zM663 416h1v4h-1zM667 396h1v7h-1zM671 376h1v4h-1zM305 444h1v2h-1zM297 431h1v2h-1zM300 437h1v2h-1zM666 403h1v5h-1zM662 420h1v4h-1zM296 429h1v2h-1zM661 424h1v4h-1zM308 448h1v2h-1zM670 380h1v4h-1zM665 408h1v4h-1zM645 446h1v2h-1zM659 432h1v3h-1zM246 457h3v1h-3zM352 457h19v1h-19zM631 457h4v1h-4zM90 459h7v1h-7zM105 459h106v1h-106zM386 459h235v1h-235zM685 376h4v1h-4zM692 376h4v1h-4zM54 460h36v1h-36zM97 460h8v1h-8zM284 429h1v1h-1zM211 458h35v1h-35zM371 458h15v1h-15zM621 458h10v1h-10zM268 442h1v1h-1zM303 442h1v1h-1zM649 442h1v1h-1zM288 426h4v1h-4zM294 426h1v1h-1zM249 456h1v1h-1zM328 456h24v1h-24zM635 456h2v1h-2zM254 451h1v1h-1zM311 451h4v1h-4zM641 451h1v1h-1zM269 441h1v1h-1zM650 441h2v1h-2zM253 452h1v1h-1zM315 452h3v1h-3zM640 452h1v1h-1zM252 453h1v1h-1zM318 453h3v1h-3zM639 453h1v1h-1zM264 445h1v1h-1zM646 445h1v1h-1zM251 454h1v1h-1zM321 454h4v1h-4zM638 454h1v1h-1zM260 447h2v1h-2zM307 447h1v1h-1zM683 375h2v1h-2zM696 375h2v1h-2zM679 373h2v1h-2zM271 439h2v1h-2zM301 439h1v1h-1zM653 439h1v1h-1zM286 427h2v1h-2zM275 436h2v1h-2zM656 436h2v1h-2zM675 371h2v1h-2zM250 455h1v1h-1zM325 455h3v1h-3zM637 455h1v1h-1zM279 433h1v1h-1zM292 425h2v1h-2zM274 437h1v1h-1zM655 437h1v1h-1zM283 430h1v1h-1zM265 444h2v1h-2zM647 444h1v1h-1zM256 449h2v1h-2zM643 449h1v1h-1zM262 446h2v1h-2zM306 446h1v1h-1zM267 443h1v1h-1zM304 443h1v1h-1zM648 443h1v1h-1zM258 448h2v1h-2zM644 448h1v1h-1zM281 431h2v1h-2zM270 440h1v1h-1zM652 440h1v1h-1zM285 428h1v1h-1zM677 372h2v1h-2zM681 374h2v1h-2zM689 377h3v1h-3zM255 450h1v1h-1zM309 450h2v1h-2zM642 450h1v1h-1zM273 438h1v1h-1zM654 438h1v1h-1zM278 434h1v1h-1zM277 435h1v1h-1zM658 435h1v1h-1zM674 370h1v1h-1zM280 432h1v1h-1z" fill="#000" shape-rendering="crispEdges"/>
<g shape-rendering="crispEdges">
<rect x="705.5" y="20.5" width="9" height="8" fill="#fff" stroke="#000" stroke-width="1"/>
<rect x="707" y="24" width="1" height="1" fill="#000"/>
<rect x="708" y="23" width="1" height="3" fill="#000"/>
<rect x="709" y="22" width="1" height="5" fill="#000"/>
<rect x="710" y="21" width="1" height="7" fill="#000"/>
<rect x="711" y="21" width="1" height="7" fill="#000"/>
<rect x="712" y="21" width="1" height="7" fill="#000"/>
</g>
<g shape-rendering="crispEdges">
<rect x="720.5" y="20.5" width="9" height="8" fill="#fff" stroke="#000" stroke-width="1"/>
<rect x="728" y="24" width="1" height="1" fill="#000"/>
<rect x="727" y="23" width="1" height="3" fill="#000"/>
<rect x="726" y="22" width="1" height="5" fill="#000"/>
<rect x="725" y="21" width="1" height="7" fill="#000"/>
<rect x="724" y="21" width="1" height="7" fill="#000"/>
<rect x="723" y="21" width="1" height="7" fill="#000"/>
</g>
<g shape-rendering="crispEdges">
<rect x="705.5" y="353.5" width="9" height="8" fill="#fff" stroke="#000" stroke-width="1"/>
<rect x="707" y="357" width="1" height="1" fill="#000"/>
<rect x="708" y="356" width="1" height="3" fill="#000"/>
<rect x="709" y="355" width="1" height="5" fill="#000"/>
<rect x="710" y="354" width="1" height="7" fill="#000"/>
<rect x="711" y="354" width="1" height="7" fill="#000"/>
<rect x="712" y="354" width="1" height="7" fill="#000"/>
</g>
<g shape-rendering="crispEdges">
<rect x="720.5" y="353.5" width="9" height="8" fill="#fff" stroke="#000" stroke-width="1"/>
<rect x="728" y="357" width="1" height="1" fill="#000"/>
<rect x="727" y="356" width="1" height="3" fill="#000"/>
<rect x="726" y="355" width="1" height="5" fill="#000"/>
<rect x="725" y="354" width="1" height="7" fill="#000"/>
<rect x="724" y="354" width="1" height="7" fill="#000"/>
<rect x="723" y="354" width="1" height="7" fill="#000"/>
</g>
<g shape-rendering="crispEdges">
<rect x="705.5" y="470.5" width="9" height="8" fill="#fff" stroke="#000" stroke-width="1"/>
<rect x="707" y="474" width="1" height="1" fill="#000"/>
<rect x="708" y="473" width="1" height="3" fill="#000"/>
<rect x="709" y="472" width="1" height="5" fill="#000"/>
<rect x="710" y="471" width="1" height="7" fill="#000"/>
<rect x="711" y="471" width="1" height="7" fill="#000"/>
<rect x="712" y="471" width="1" height="7" fill="#000"/>
</g>
<g shape-rendering="crispEdges">
<rect x="720.5" y="470.5" width="9" height="8" fill="#fff" stroke="#000" stroke-width="1"/>
<rect x="728" y="474" width="1" height="1" fill="#000"/>
<rect x="727" y="473" width="1" height="3" fill="#000"/>
<rect x="726" y="472" width="1" height="5" fill="#000"/>
<rect x="725" y="471" width="1" height="7" fill="#000"/>
<rect x="724" y="471" width="1" height="7" fill="#000"/>
<rect x="723" y="471" width="1" height="7" fill="#000"/>
</g>
<rect x="731" y="352" width="3" height="10" fill="#c3c3c3"/>
<text y="12" font-family="&quot;Liberation Sans&quot;, &quot;Noto Sans CJK SC&quot;, sans-serif" font-size="13" fill="#000"><tspan x="55.5" y="12.8" font-size="11" textLength="16.0" lengthAdjust="spacingAndGlyphs">沪</tspan><tspan x="73.7" y="12.8" font-size="11" textLength="17.0" lengthAdjust="spacingAndGlyphs">锌</tspan><tspan x="92.3" y="12" font-size="13" textLength="52.9" lengthAdjust="spacingAndGlyphs">1010(SHME</tspan><tspan font-size="1"> </tspan><tspan x="152.3" y="12" font-size="13" textLength="27.3" lengthAdjust="spacingAndGlyphs">2240)</tspan><tspan x="179.8" y="12.8" font-size="11" textLength="16.0" lengthAdjust="spacingAndGlyphs">周</tspan><tspan x="197.0" y="12.8" font-size="11" textLength="17.0" lengthAdjust="spacingAndGlyphs">线</tspan></text>
<text y="15" font-family="&quot;Liberation Sans&quot;, &quot;Noto Sans CJK SC&quot;, sans-serif" font-size="13" fill="#000"><tspan x="247.8" y="15" font-size="13" textLength="21.3" lengthAdjust="spacingAndGlyphs">MA5</tspan><tspan font-size="1"> </tspan><tspan x="272.9" y="15" font-size="13" textLength="44.6" lengthAdjust="spacingAndGlyphs">15188.00</tspan></text>
<text y="15" font-family="&quot;Liberation Sans&quot;, &quot;Noto Sans CJK SC&quot;, sans-serif" font-size="13" fill="#000"><tspan x="338.8" y="15" font-size="13" textLength="26.8" lengthAdjust="spacingAndGlyphs">MA10</tspan><tspan font-size="1"> </tspan><tspan x="369.4" y="15" font-size="13" textLength="44.6" lengthAdjust="spacingAndGlyphs">15119.00</tspan></text>
<text y="15" font-family="&quot;Liberation Sans&quot;, &quot;Noto Sans CJK SC&quot;, sans-serif" font-size="13" fill="#000"><tspan x="429.8" y="15" font-size="13" textLength="26.8" lengthAdjust="spacingAndGlyphs">MA20</tspan><tspan font-size="1"> </tspan><tspan x="460.4" y="15" font-size="13" textLength="45.0" lengthAdjust="spacingAndGlyphs">17090.25</tspan></text>
<text y="15" font-family="&quot;Liberation Sans&quot;, &quot;Noto Sans CJK SC&quot;, sans-serif" font-size="13" fill="#808080"><tspan x="520.7" y="15" font-size="13" textLength="27.8" lengthAdjust="spacingAndGlyphs">MA30</tspan><tspan font-size="1"> </tspan><tspan x="552.6" y="15" font-size="13" textLength="43.0" lengthAdjust="spacingAndGlyphs">18060.17</tspan></text>
<text y="15" font-family="&quot;Liberation Sans&quot;, &quot;Noto Sans CJK SC&quot;, sans-serif" font-size="13" fill="#b8b8b8"><tspan x="611.6" y="15" font-size="13" textLength="27.7" lengthAdjust="spacingAndGlyphs">MA60</tspan><tspan font-size="1"> </tspan><tspan x="648.9" y="15" font-size="13" textLength="44.0" lengthAdjust="spacingAndGlyphs">16914.67</tspan></text>
<text y="365" font-family="&quot;Liberation Sans&quot;, &quot;Noto Sans CJK SC&quot;, sans-serif" font-size="13" fill="#000"><tspan x="55.5" y="365" font-size="13" textLength="17.1" lengthAdjust="spacingAndGlyphs">CJL</tspan></text>
<text y="364" font-family="&quot;Liberation Sans&quot;, &quot;Noto Sans CJK SC&quot;, sans-serif" font-size="13" fill="#000"><tspan x="191.6" y="364" font-size="13" textLength="56.2" lengthAdjust="spacingAndGlyphs">1349518.00</tspan><tspan x="248.8" y="364" font-size="13" textLength="32.7" lengthAdjust="spacingAndGlyphs">(51:49)</tspan></text>
<text y="364" font-family="&quot;Liberation Sans&quot;, &quot;Noto Sans CJK SC&quot;, sans-serif" font-size="13" fill="#000"><tspan x="296.9" y="364" font-size="13" textLength="24.0" lengthAdjust="spacingAndGlyphs">OPID</tspan><tspan font-size="1"> </tspan><tspan x="332.0" y="364" font-size="13" textLength="50.3" lengthAdjust="spacingAndGlyphs">287208.00</tspan></text>
<text y="482" font-family="&quot;Liberation Sans&quot;, &quot;Noto Sans CJK SC&quot;, sans-serif" font-size="13" fill="#000"><tspan x="55.6" y="482" font-size="13" textLength="78.8" lengthAdjust="spacingAndGlyphs">MACD(12,26,10)</tspan></text>
<text y="481" font-family="&quot;Liberation Sans&quot;, &quot;Noto Sans CJK SC&quot;, sans-serif" font-size="13" fill="#000"><tspan x="191.8" y="481" font-size="13" textLength="22.0" lengthAdjust="spacingAndGlyphs">DIFF</tspan><tspan font-size="1"> </tspan><tspan x="223.5" y="481" font-size="13" textLength="35.3" lengthAdjust="spacingAndGlyphs">-938.20</tspan></text>
<text y="481" font-family="&quot;Liberation Sans&quot;, &quot;Noto Sans CJK SC&quot;, sans-serif" font-size="13" fill="#000"><tspan x="296.6" y="481" font-size="13" textLength="21.6" lengthAdjust="spacingAndGlyphs">DEA</tspan><tspan font-size="1"> </tspan><tspan x="327.8" y="481" font-size="13" textLength="35.6" lengthAdjust="spacingAndGlyphs">-643.39</tspan></text>
<text y="481" font-family="&quot;Liberation Sans&quot;, &quot;Noto Sans CJK SC&quot;, sans-serif" font-size="13" fill="#000"><tspan x="401.8" y="481" font-size="13" textLength="35.7" lengthAdjust="spacingAndGlyphs">-589.62</tspan></text>
<text y="100.7" font-family="&quot;Liberation Sans&quot;, &quot;Noto Sans CJK SC&quot;, sans-serif" font-size="13" fill="#b8b8b8"><tspan x="19.0" y="100.7" font-size="13" textLength="29.0" lengthAdjust="spacingAndGlyphs">20000</tspan></text>
<text y="212.7" font-family="&quot;Liberation Sans&quot;, &quot;Noto Sans CJK SC&quot;, sans-serif" font-size="13" fill="#b8b8b8"><tspan x="19.0" y="212.7" font-size="13" textLength="29.0" lengthAdjust="spacingAndGlyphs">15000</tspan></text>
<text y="323.7" font-family="&quot;Liberation Sans&quot;, &quot;Noto Sans CJK SC&quot;, sans-serif" font-size="13" fill="#b8b8b8"><tspan x="19.0" y="323.7" font-size="13" textLength="29.0" lengthAdjust="spacingAndGlyphs">10000</tspan></text>
<text y="384.7" font-family="&quot;Liberation Sans&quot;, &quot;Noto Sans CJK SC&quot;, sans-serif" font-size="13" fill="#b8b8b8"><tspan x="1.2" y="384.7" font-size="13" textLength="46.8" lengthAdjust="spacingAndGlyphs">10000000</tspan></text>
<text y="428.7" font-family="&quot;Liberation Sans&quot;, &quot;Noto Sans CJK SC&quot;, sans-serif" font-size="13" fill="#b8b8b8"><tspan x="6.6" y="428.7" font-size="13" textLength="41.4" lengthAdjust="spacingAndGlyphs">5000000</tspan></text>
</svg>
</body>
</html>
